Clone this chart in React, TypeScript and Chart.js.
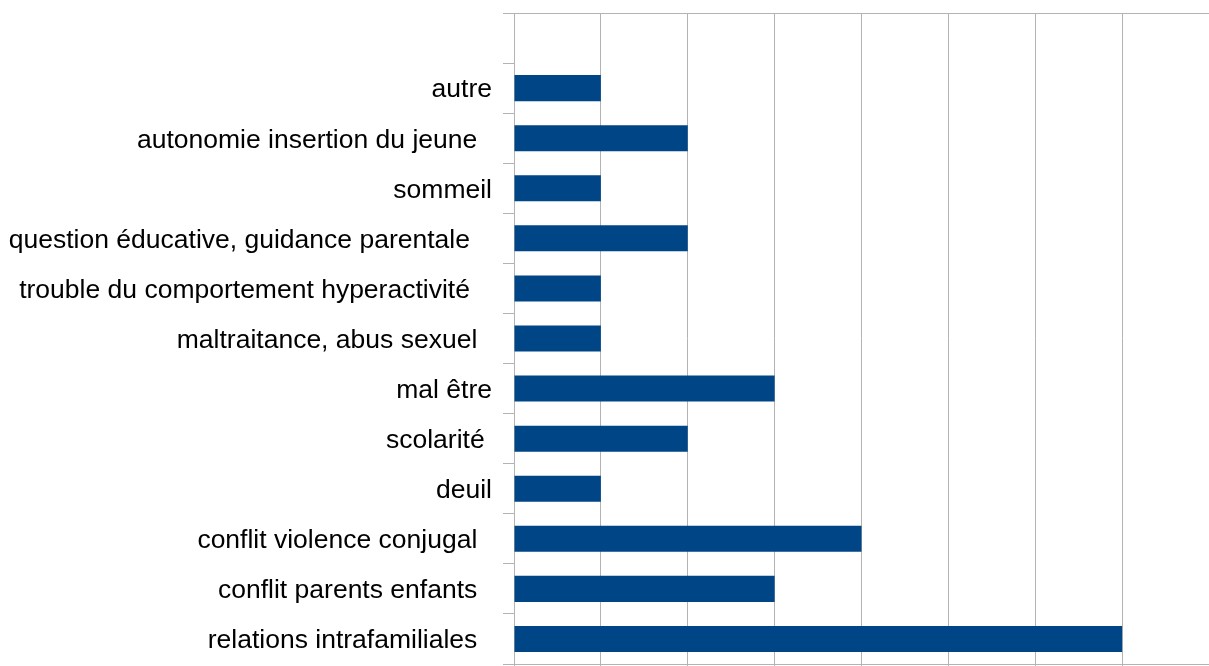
import React, { useEffect, useRef } from "react";
import { Chart, registerables } from "chart.js";

Chart.register(...registerables);

const categories: string[] = [
  "",
  "autre",
  "autonomie insertion du jeune  ",
  "sommeil",
  "question éducative, guidance parentale   ",
  "trouble du comportement hyperactivité   ",
  "maltraitance, abus sexuel  ",
  "mal être",
  "scolarité ",
  "deuil",
  "conflit violence conjugal  ",
  "conflit parents enfants  ",
  "relations intrafamiliales  ",
];

const values: (number | null)[] = [null, 1, 2, 1, 2, 1, 1, 3, 2, 1, 4, 3, 7];

const xMin = 0;
const xMax = 8;
const xStep = 1;

const GRID = "#b3b3b3";
const BAR = "#004586";

export default function App() {
  const ref = useRef<HTMLCanvasElement | null>(null);

  useEffect(() => {
    document.body.style.margin = "0";
    const canvas = ref.current;
    if (!canvas) return;
    const chart = new Chart(canvas, {
      type: "bar",
      data: {
        labels: categories,
        datasets: [
          {
            data: values,
            backgroundColor: BAR,
            borderWidth: 0,
            categoryPercentage: 1,
            barPercentage: 0.52,
          },
        ],
      },
      options: {
        indexAxis: "y",
        animation: false,
        responsive: false,
        maintainAspectRatio: false,
        layout: { padding: { top: 13, right: 0, left: 0, bottom: 0 } },
        plugins: { legend: { display: false }, tooltip: { enabled: false } },
        scales: {
          x: {
            type: "linear",
            min: xMin,
            max: xMax,
            afterFit: (scale: any) => {
              scale.height = 2;
              scale.paddingLeft = 0;
              scale.paddingRight = 0;
            },
            ticks: { display: false, stepSize: xStep },
            grid: {
              color: (c: any) => (c.index === 8 ? "transparent" : GRID),
              tickLength: 2,
              lineWidth: 1,
            },
            border: { color: GRID, width: 1 },
          },
          y: {
            type: "category",
            afterFit: (scale: any) => {
              scale.width = 514;
              scale.paddingTop = 0;
              scale.paddingBottom = 0;
            },
            ticks: {
              color: "#000000",
              padding: 11,
              labelOffset: 2,
              font: { family: "'Liberation Sans', Arial, sans-serif", size: 26.5 },
              autoSkip: false,
            },
            grid: {
              offset: true,
              tickLength: 11,
              drawOnChartArea: true,
              color: (c: any) =>
                c.index === 0 || c.index === categories.length ? GRID : "transparent",
              tickColor: GRID,
            },
            border: { color: GRID, width: 1 },
          },
        },
      },
    });
    return () => chart.destroy();
  }, []);

  return (
    <div style={{ width: 1209, height: 666 }}>
      <canvas ref={ref} width={1209} height={666} style={{ display: "block" }} />
    </div>
  );
}
